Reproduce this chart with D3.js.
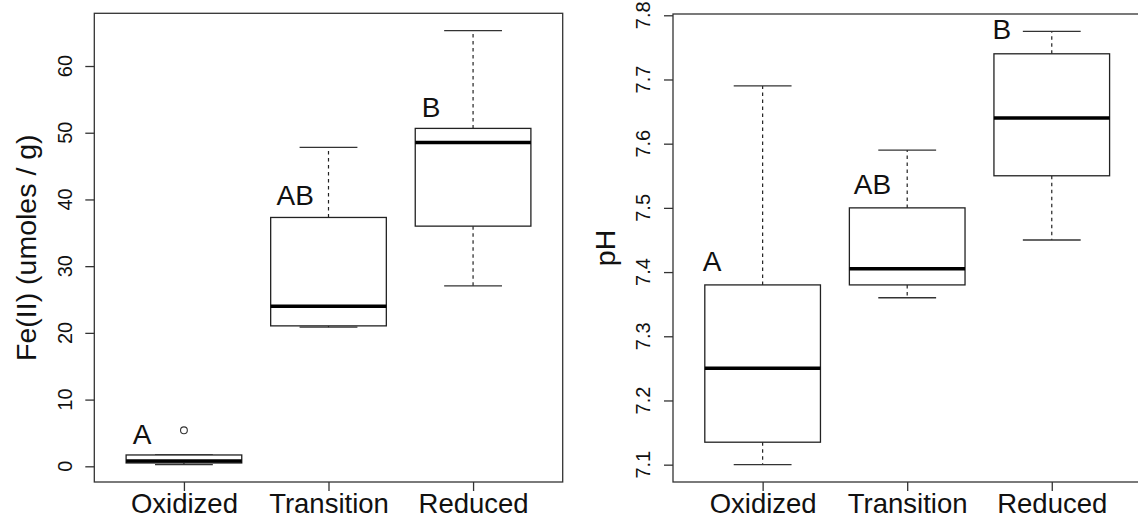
<!DOCTYPE html>
<html>
<head>
<meta charset="utf-8">
<script src="https://cdn.jsdelivr.net/npm/d3@7"></script>
<style>
  html, body { margin: 0; padding: 0; background: #fff; }
  svg { display: block; }
  text { font-family: "Liberation Sans", Arial, sans-serif; fill: #111; }
</style>
</head>
<body>
<svg id="chart" width="1138" height="525"></svg>
<script>
// Redox groups shared by both panels
const groups = ["Oxidized", "Transition", "Reduced"];

// Fe(II) box statistics (umoles / g)
const feLow  = [0.25, 20.85, 27.05];
const feQ1   = [0.5, 21.05, 36.0];
const feMed  = [0.8, 24.0, 48.55];
const feQ3   = [1.7, 37.3, 50.65];
const feHigh = [1.7, 47.8, 65.3];
const feOutliers = [[5.4], [], []];
const feTicks = [0, 10, 20, 30, 40, 50, 60];
const feLetters = ["A", "AB", "B"];
const feLetterX = [0.71, 1.77, 2.71];
const feLetterY = [4.85, 40.7, 53.8];

// pH box statistics
const phLow  = [7.10, 7.36, 7.45];
const phQ1   = [7.135, 7.38, 7.55];
const phMed  = [7.25, 7.405, 7.64];
const phQ3   = [7.38, 7.50, 7.74];
const phHigh = [7.69, 7.59, 7.775];
const phOutliers = [[], [], []];
const phTicks = [7.1, 7.2, 7.3, 7.4, 7.5, 7.6, 7.7, 7.8];
const phLetters = ["A", "AB", "B"];
const phLetterX = [0.65, 1.76, 2.655];
const phLetterY = [7.417, 7.538, 7.778];

const svg = d3.select("#chart");
const ink = "#222";

function drawPanel(cfg) {
  const g = svg.append("g");
  const x = d3.scaleLinear().domain([0.38, 3.62]).range([cfg.left, cfg.right]);
  // y range padded by 4% of the data span, like base R plots
  const all = cfg.low.concat(cfg.high, cfg.outliers.flat());
  const lo = d3.min(all), hi = d3.max(all), pad = (hi - lo) * 0.04;
  const y = d3.scaleLinear().domain([lo - pad, hi + pad]).range([cfg.bottom, cfg.top]);

  // frame
  g.append("rect")
    .attr("x", cfg.left).attr("y", cfg.top)
    .attr("width", cfg.right - cfg.left).attr("height", cfg.bottom - cfg.top)
    .attr("fill", "none").attr("stroke", "#333").attr("stroke-width", 1.3);

  // y axis ticks with rotated labels
  const yAxis = d3.axisLeft(y).tickValues(cfg.ticks).tickSize(9).tickSizeOuter(0)
    .tickFormat(cfg.fmt);
  const ya = g.append("g").attr("transform", `translate(${cfg.left},0)`).call(yAxis);
  ya.select(".domain").remove();
  ya.selectAll(".tick line").attr("stroke", "#333").attr("stroke-width", 1.3);
  ya.selectAll(".tick text").remove();
  cfg.ticks.forEach(t => {
    g.append("text")
      .attr("transform", `translate(${cfg.left - 30},${y(t)}) rotate(-90)`)
      .attr("text-anchor", "middle").attr("dy", "0.36em")
      .style("font-size", "20px")
      .text(cfg.fmt(t));
  });

  // x axis ticks and group names
  const xAxis = d3.axisBottom(x).tickValues([1, 2, 3]).tickSize(9).tickSizeOuter(0)
    .tickFormat(d => groups[d - 1]);
  const xa = g.append("g").attr("transform", `translate(0,${cfg.bottom})`).call(xAxis);
  xa.select(".domain").remove();
  xa.selectAll(".tick line").attr("stroke", "#333").attr("stroke-width", 1.3);
  xa.selectAll(".tick text")
    .attr("y", 0).attr("dy", 0)
    .attr("transform", "translate(0,31)")
    .style("font-size", "27.5px")
    .style("font-family", "'Liberation Sans', Arial, sans-serif")
    .attr("fill", "#111");

  // y axis title, centred on the plot region
  g.append("text")
    .attr("transform", `translate(${cfg.titleX},${(cfg.top + cfg.bottom) / 2}) rotate(-90)`)
    .attr("text-anchor", "middle").attr("dy", "0.36em")
    .style("font-size", cfg.titleSize + "px")
    .text(cfg.title);

  // boxes
  groups.forEach((name, i) => {
    const c = i + 1;
    const bw = 0.4, sw = 0.2;
    const bx = g.append("g");
    // dashed whiskers
    bx.append("line")
      .attr("x1", x(c)).attr("x2", x(c))
      .attr("y1", y(cfg.q3[i])).attr("y2", y(cfg.high[i]))
      .attr("stroke", ink).attr("stroke-width", 1.2).attr("stroke-dasharray", "3.5,3.5");
    bx.append("line")
      .attr("x1", x(c)).attr("x2", x(c))
      .attr("y1", y(cfg.q1[i])).attr("y2", y(cfg.low[i]))
      .attr("stroke", ink).attr("stroke-width", 1.2).attr("stroke-dasharray", "3.5,3.5");
    // staples
    [cfg.low[i], cfg.high[i]].forEach(v => {
      bx.append("line")
        .attr("x1", x(c - sw)).attr("x2", x(c + sw))
        .attr("y1", y(v)).attr("y2", y(v))
        .attr("stroke", "#333").attr("stroke-width", 1.3);
    });
    // box
    bx.append("rect")
      .attr("x", x(c - bw)).attr("width", x(c + bw) - x(c - bw))
      .attr("y", y(cfg.q3[i])).attr("height", y(cfg.q1[i]) - y(cfg.q3[i]))
      .attr("fill", "#fff").attr("stroke", ink).attr("stroke-width", 1.3);
    // median
    bx.append("line")
      .attr("x1", x(c - bw)).attr("x2", x(c + bw))
      .attr("y1", y(cfg.med[i])).attr("y2", y(cfg.med[i]))
      .attr("stroke", "#000").attr("stroke-width", 3.5);
    // outliers
    cfg.outliers[i].forEach(v => {
      bx.append("circle")
        .attr("cx", x(c)).attr("cy", y(v)).attr("r", 3.4)
        .attr("fill", "none").attr("stroke", "#333").attr("stroke-width", 1.1);
    });
    // significance letter
    g.append("text")
      .attr("x", x(cfg.letterX[i])).attr("y", y(cfg.letterY[i]))
      .attr("text-anchor", "middle").attr("dy", "0.36em")
      .style("font-size", "28px")
      .text(cfg.letters[i]);
  });
}

drawPanel({
  left: 94.3, right: 562.7, top: 13.3, bottom: 482,
  low: feLow, q1: feQ1, med: feMed, q3: feQ3, high: feHigh, outliers: feOutliers,
  ticks: feTicks, fmt: d3.format("d"),
  letters: feLetters, letterX: feLetterX, letterY: feLetterY,
  title: "Fe(II) (umoles / g)", titleX: 26, titleSize: 28.5
});

drawPanel({
  left: 673, right: 1141.4, top: 14, bottom: 482,
  low: phLow, q1: phQ1, med: phMed, q3: phQ3, high: phHigh, outliers: phOutliers,
  ticks: phTicks, fmt: d3.format(".1f"),
  letters: phLetters, letterX: phLetterX, letterY: phLetterY,
  title: "pH", titleX: 605, titleSize: 28.5
});
</script>
</body>
</html>
